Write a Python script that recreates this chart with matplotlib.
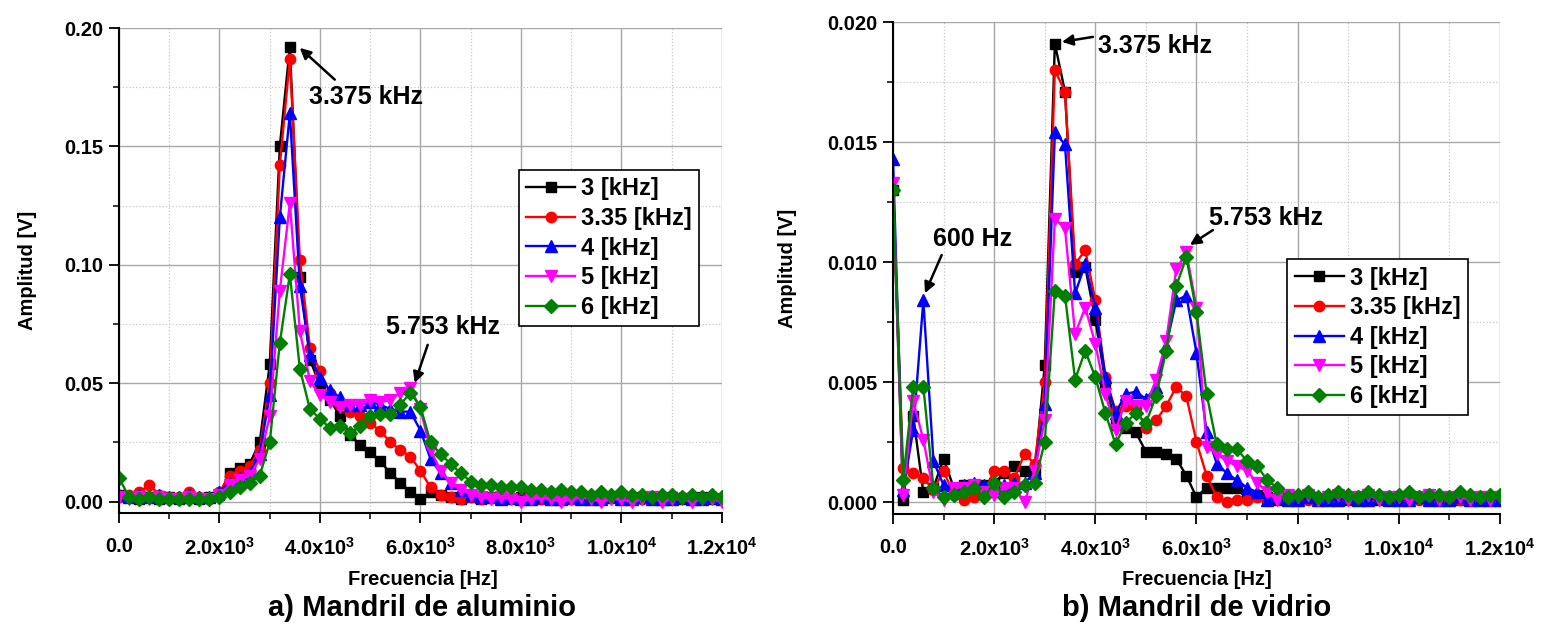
import matplotlib
matplotlib.use('Agg')
import matplotlib.pyplot as plt
import numpy as np
from matplotlib.ticker import MultipleLocator, FuncFormatter

plt.rcParams['font.family'] = ['Liberation Sans', 'DejaVu Sans']
plt.rcParams['font.weight'] = 'bold'
plt.rcParams['mathtext.default'] = 'regular'

# frequency grid, 200 Hz steps from 0 to 12 kHz
freq = np.arange(61) * 200.0

labels = ['3 [kHz]', '3.35 [kHz]', '4 [kHz]', '5 [kHz]', '6 [kHz]']

# a) aluminium mandrel, amplitude [V]
al_3 = [0.003, 0.002, 0.001, 0.002, 0.001, 0.002, 0.001, 0.002, 0.001, 0.002,
        0.003, 0.012, 0.014, 0.016, 0.025, 0.058, 0.150, 0.192, 0.095, 0.060,
        0.049, 0.043, 0.036, 0.028, 0.024, 0.021, 0.017, 0.012, 0.008, 0.004,
        0.001, 0.004, 0.003, 0.002, 0.001, 0.002, 0.001, 0.002, 0.001, 0.001,
        0.002, 0.001, 0.001, 0.002, 0.001, 0.001, 0.002, 0.001, 0.001, 0.002,
        0.001, 0.001, 0.002, 0.001, 0.001, 0.002, 0.001, 0.001, 0.002, 0.001,
        0.001]
al_335 = [0.002, 0.003, 0.004, 0.007, 0.003, 0.002, 0.002, 0.004, 0.002, 0.001,
          0.004, 0.011, 0.013, 0.015, 0.022, 0.050, 0.142, 0.187, 0.102, 0.065,
          0.055, 0.046, 0.041, 0.038, 0.036, 0.033, 0.030, 0.025, 0.022, 0.019,
          0.013, 0.006, 0.003, 0.002, 0.001, 0.002, 0.001, 0.002, 0.001, 0.002,
          0.001, 0.002, 0.001, 0.001, 0.002, 0.001, 0.002, 0.001, 0.001, 0.002,
          0.001, 0.002, 0.001, 0.001, 0.002, 0.001, 0.002, 0.001, 0.001, 0.002,
          0.001]
al_4 = [0.003, 0.002, 0.003, 0.002, 0.003, 0.002, 0.002, 0.003, 0.002, 0.002,
        0.004, 0.008, 0.010, 0.012, 0.020, 0.045, 0.120, 0.164, 0.091, 0.062,
        0.052, 0.047, 0.044, 0.041, 0.041, 0.042, 0.041, 0.039, 0.038, 0.038,
        0.030, 0.018, 0.012, 0.008, 0.005, 0.003, 0.002, 0.002, 0.001, 0.002,
        0.001, 0.001, 0.002, 0.001, 0.001, 0.002, 0.001, 0.001, 0.001, 0.002,
        0.001, 0.001, 0.002, 0.001, 0.001, 0.001, 0.002, 0.001, 0.001, 0.002,
        0.001]
al_5 = [0.002, 0.001, 0.002, 0.001, 0.002, 0.001, 0.001, 0.002, 0.001, 0.001,
        0.003, 0.007, 0.009, 0.011, 0.018, 0.036, 0.089, 0.126, 0.072, 0.051,
        0.045, 0.042, 0.040, 0.041, 0.041, 0.043, 0.042, 0.043, 0.046, 0.048,
        0.039, 0.022, 0.013, 0.008, 0.005, 0.003, 0.002, 0.001, 0.002, 0.001,
        0.000, 0.001, 0.002, 0.001, 0.000, 0.001, 0.002, 0.001, 0.000, 0.001,
        0.001, 0.000, 0.001, 0.002, 0.000, 0.001, 0.001, 0.000, 0.001, 0.001,
        0.000]
al_6 = [0.010, 0.002, 0.001, 0.002, 0.001, 0.001, 0.001, 0.001, 0.001, 0.001,
        0.002, 0.004, 0.006, 0.008, 0.011, 0.025, 0.067, 0.096, 0.056, 0.039,
        0.035, 0.031, 0.032, 0.029, 0.032, 0.036, 0.037, 0.037, 0.041, 0.046,
        0.040, 0.025, 0.020, 0.016, 0.012, 0.0085, 0.007, 0.007, 0.006, 0.006,
        0.006, 0.005, 0.005, 0.004, 0.005, 0.004, 0.004, 0.003, 0.004, 0.003,
        0.004, 0.003, 0.003, 0.002, 0.003, 0.003, 0.002, 0.003, 0.002, 0.003,
        0.002]

# b) glass mandrel, amplitude [V]
gl_3 = [0.0130, 0.0001, 0.0036, 0.0004, 0.0006, 0.0018, 0.0006, 0.0007, 0.0006, 0.0007,
        0.0008, 0.0012, 0.0015, 0.0013, 0.0012, 0.0057, 0.0191, 0.0171, 0.0096, 0.0098,
        0.0076, 0.0050, 0.0032, 0.0031, 0.0029, 0.0021, 0.0021, 0.0020, 0.0018, 0.0011,
        0.0002, 0.0006, 0.0006, 0.0006, 0.0006, 0.0003, 0.0003, 0.0002, 0.0001, 0.0002,
        0.0001, 0.0002, 0.0001, 0.0001, 0.0002, 0.0001, 0.0002, 0.0001, 0.0001, 0.0002,
        0.0001, 0.0001, 0.0002, 0.0001, 0.0001, 0.0002, 0.0001, 0.0001, 0.0001, 0.0002,
        0.0001]
gl_335 = [0.0130, 0.0014, 0.0012, 0.0010, 0.0005, 0.0013, 0.0003, 0.0001, 0.0002, 0.0004,
          0.0013, 0.0013, 0.0010, 0.0020, 0.0016, 0.0050, 0.0180, 0.0171, 0.0099, 0.0105,
          0.0084, 0.0052, 0.0038, 0.0040, 0.0039, 0.0031, 0.0034, 0.0040, 0.0048, 0.0044,
          0.0025, 0.0011, 0.0002, 0.0000, 0.0001, 0.0001, 0.0002, 0.0001, 0.0002, 0.0001,
          0.0002, 0.0001, 0.0001, 0.0002, 0.0001, 0.0002, 0.0001, 0.0001, 0.0002, 0.0001,
          0.0001, 0.0002, 0.0001, 0.0001, 0.0002, 0.0001, 0.0001, 0.0002, 0.0001, 0.0001,
          0.0001]
gl_4 = [0.0143, 0.0005, 0.0030, 0.0084, 0.0017, 0.0007, 0.0006, 0.0007, 0.0008, 0.0007,
        0.0006, 0.0007, 0.0008, 0.0008, 0.0012, 0.0041, 0.0154, 0.0149, 0.0087, 0.0099,
        0.0081, 0.0052, 0.0037, 0.0045, 0.0046, 0.0043, 0.0048, 0.0065, 0.0084, 0.0086,
        0.0062, 0.0029, 0.0016, 0.0012, 0.0009, 0.0006, 0.0004, 0.0001, 0.0002, 0.0001,
        0.0001, 0.0002, 0.0001, 0.0001, 0.0001, 0.0002, 0.0001, 0.0001, 0.0002, 0.0001,
        0.0001, 0.0001, 0.0002, 0.0001, 0.0001, 0.0001, 0.0002, 0.0001, 0.0001, 0.0001,
        0.0001]
gl_5 = [0.0133, 0.0003, 0.0042, 0.0026, 0.0004, 0.0001, 0.0006, 0.0006, 0.0007, 0.0004,
        0.0003, 0.0006, 0.0006, 0.0000, 0.0013, 0.0034, 0.0118, 0.0114, 0.0070, 0.0081,
        0.0066, 0.0045, 0.0030, 0.0042, 0.0040, 0.0040, 0.0051, 0.0067, 0.0097, 0.0104,
        0.0081, 0.0023, 0.0020, 0.0017, 0.0015, 0.0013, 0.0008, 0.0004, 0.0001, 0.0003,
        0.0002, 0.0003, 0.0001, 0.0002, 0.0003, 0.0001, 0.0002, 0.0003, 0.0001, 0.0002,
        0.0002, 0.0001, 0.0002, 0.0003, 0.0001, 0.0002, 0.0002, 0.0001, 0.0002, 0.0001,
        0.0002]
gl_6 = [0.0130, 0.0009, 0.0048, 0.0048, 0.0006, 0.0002, 0.0003, 0.0004, 0.0006, 0.0002,
        0.0008, 0.0002, 0.0004, 0.0007, 0.0008, 0.0025, 0.0088, 0.0086, 0.0051, 0.0063,
        0.0052, 0.0037, 0.0024, 0.0033, 0.0037, 0.0033, 0.0044, 0.0063, 0.0090, 0.0102,
        0.0079, 0.0045, 0.0024, 0.0022, 0.0022, 0.0017, 0.0015, 0.0009, 0.0006, 0.0002,
        0.0003, 0.0004, 0.0002, 0.0003, 0.0004, 0.0003, 0.0002, 0.0004, 0.0003, 0.0002,
        0.0003, 0.0004, 0.0002, 0.0003, 0.0003, 0.0002, 0.0004, 0.0003, 0.0002, 0.0003,
        0.0003]

colors = ['#000000', '#ff0000', '#0000ff', '#ff00ff', '#008000']
markers = ['s', 'o', '^', 'v', 'D']
msizes = [7.5, 7.5, 8.5, 8.5, 7]


def fmt_x(v, pos):
    if abs(v) < 1e-9:
        return '0.0'
    if v < 0:
        return ''
    e = int(np.floor(np.log10(v)))
    return f'{v / 10 ** e:.1f}x10$^{{{e}}}$'


def setup_axes(ax, ymin, ymax, ymajor, yfmt):
    ax.set_xlim(0, 12000)
    ax.set_ylim(ymin, ymax)
    ax.xaxis.set_major_locator(MultipleLocator(2000))
    ax.xaxis.set_minor_locator(MultipleLocator(1000))
    ax.yaxis.set_major_locator(MultipleLocator(ymajor))
    ax.yaxis.set_minor_locator(MultipleLocator(ymajor / 2))
    ax.xaxis.set_major_formatter(FuncFormatter(fmt_x))
    ax.yaxis.set_major_formatter(FuncFormatter(lambda v, p: yfmt.format(abs(v)) if v > -1e-9 else ''))
    ax.grid(which='major', color='#a8a8a8', lw=1.0, ls='-')
    ax.grid(which='minor', color='#c8c8c8', lw=0.9, ls=':')
    ax.set_axisbelow(True)
    for s in ['top', 'right']:
        ax.spines[s].set_visible(False)
    for s in ['left', 'bottom']:
        ax.spines[s].set_linewidth(1.5)
    ax.tick_params(which='major', direction='out', length=7, width=1.3,
                   labelsize=14.5)
    ax.tick_params(which='minor', direction='out', length=4, width=1.1)
    ax.tick_params(axis='x', which='major', pad=10)
    ax.tick_params(axis='y', which='major', pad=4)


def draw_series(ax, series):
    for vals, c, m, ms, lab in zip(series, colors, markers, msizes, labels):
        ax.plot(freq, vals, color=c, marker=m, markersize=ms, lw=1.7,
                markeredgecolor=c, label=lab)


def add_legend(ax, anchor):
    leg = ax.legend(loc='lower right', bbox_to_anchor=anchor, fontsize=17,
                    frameon=True, fancybox=False, edgecolor='black',
                    framealpha=1, handlelength=2.1, handletextpad=0.25,
                    labelspacing=0.28, borderpad=0.3, borderaxespad=0)
    leg.get_frame().set_linewidth(1.2)


def arrow(ax, tip, tail):
    ax.annotate('', xy=tip, xytext=tail,
                arrowprops=dict(arrowstyle='-|>', color='black', lw=1.8,
                                mutation_scale=16, shrinkA=0, shrinkB=0))


fig = plt.figure(figsize=(15.43, 6.26), dpi=100)
ax1 = fig.add_axes([0.07712, 0.18051, 0.39080, 0.77476])
ax2 = fig.add_axes([0.57874, 0.17891, 0.39339, 0.78594])

draw_series(ax1, [al_3, al_335, al_4, al_5, al_6])
setup_axes(ax1, -0.0048, 0.2, 0.05, '{:.2f}')
ax1.set_ylabel('Amplitud [V]', fontsize=14.5, fontweight='bold', labelpad=20)
add_legend(ax1, (0.962, 0.3856))
arrow(ax1, (3598, 0.1916), (4294, 0.1782))
ax1.text(4911, 0.1707, '3.375 kHz', fontsize=18, fontweight='bold',
         ha='center', va='center')
arrow(ax1, (5885, 0.0501), (6143, 0.0662))
ax1.text(6441, 0.0738, '5.753 kHz', fontsize=18, fontweight='bold',
         ha='center', va='center')

draw_series(ax2, [gl_3, gl_335, gl_4, gl_5, gl_6])
setup_axes(ax2, -0.0005, 0.02, 0.005, '{:.3f}')
ax2.set_ylabel('Amplitud [V]', fontsize=14.5, fontweight='bold', labelpad=22)
add_legend(ax2, (0.947, 0.201))
arrow(ax2, (3340, 0.01917), (3953, 0.01938))
ax2.text(4051, 0.0190, '3.375 kHz', fontsize=18, fontweight='bold',
         ha='left', va='center')
arrow(ax2, (632, 0.0087), (962, 0.01029))
ax2.text(1581, 0.01096, '600 Hz', fontsize=18, fontweight='bold',
         ha='center', va='center')
arrow(ax2, (5870, 0.01071), (6324, 0.01133))
ax2.text(7372, 0.01183, '5.753 kHz', fontsize=18, fontweight='bold',
         ha='center', va='center')

fig.text(0.2738, 0.0735, 'Frecuencia [Hz]', fontsize=14.5, fontweight='bold',
         ha='center', va='center')
fig.text(0.7754, 0.0735, 'Frecuencia [Hz]', fontsize=14.5, fontweight='bold',
         ha='center', va='center')
fig.text(0.2738, 0.028, 'a) Mandril de aluminio', fontsize=21,
         fontweight='bold', ha='center', va='center')
fig.text(0.7754, 0.028, 'b) Mandril de vidrio', fontsize=21,
         fontweight='bold', ha='center', va='center')

fig.savefig('out.png', dpi=100)
